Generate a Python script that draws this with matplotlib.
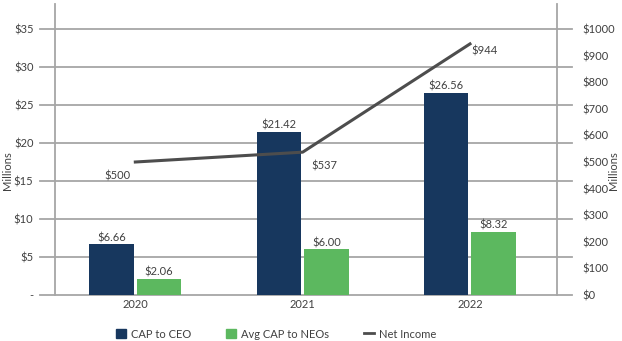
import numpy as np
import matplotlib.pyplot as plt
from matplotlib.patches import Patch
from matplotlib.lines import Line2D

plt.rcParams['font.family'] = ['Lato', 'DejaVu Sans']

years = ['2020', '2021', '2022']
cap_ceo = [6.66, 21.42, 26.56]
cap_neo = [2.06, 6.00, 8.32]
net_income = [500, 537, 944]
left_ticks = [0, 5, 10, 15, 20, 25, 30, 35]
left_labels = ['-', '$5', '$10', '$15', '$20', '$25', '$30', '$35']
right_ticks = list(range(0, 1001, 100))

navy = '#17375e'
green = '#5cb85f'
line_col = '#4d4d4d'
grid_col = '#a6a6a6'
txt_col = '#404040'

fig = plt.figure(figsize=(6.22, 3.41), dpi=100)
ax = fig.add_axes([55 / 622, 1 - 295 / 341, (557 - 55) / 622, (295 - 4) / 341])
ax2 = ax.twinx()

x = np.arange(len(years))
w = 0.265
gap = 0.009
b1 = ax.bar(x - w / 2 - gap, cap_ceo, w, color=navy, zorder=3)
b2 = ax.bar(x + w / 2 + gap, cap_neo, w, color=green, zorder=3)
for bars in (b1, b2):
    for r in bars:
        ax.annotate(f'${r.get_height():.2f}', (r.get_x() + r.get_width() / 2, r.get_height()),
                    xytext=(0, 1), textcoords='offset points', ha='center', va='bottom',
                    fontsize=8, color=txt_col)

ax.set_xlim(-0.48, 2.52)
ax.set_ylim(0, 38.3)
ax.set_yticks(left_ticks)
ax.set_yticklabels(left_labels)
ax.set_xticks(x)
ax.set_xticklabels(years)

# gridlines running past both spines
for t in left_ticks:
    ax.plot([-0.03, 1.03], [t, t], transform=ax.get_yaxis_transform(), color=grid_col,
            lw=1.3, clip_on=False, zorder=1)

ax.tick_params(axis='y', length=0, pad=15.5, labelsize=8, labelcolor=txt_col)
ax.tick_params(axis='x', length=0, pad=3, labelsize=8, labelcolor=txt_col)
for s in ['top', 'right', 'bottom']:
    ax.spines[s].set_visible(False)
ax.spines['left'].set_color(grid_col)
ax.spines['left'].set_linewidth(1.3)

ax2.plot(x, net_income, color=line_col, lw=2.2, zorder=4)
ax2.set_ylim(0, 1094)
ax2.set_yticks(right_ticks)
ax2.set_yticklabels([f'${v}' for v in right_ticks])
ax2.tick_params(axis='y', length=0, pad=18, labelsize=8, labelcolor=txt_col)
for s in ['top', 'left', 'bottom']:
    ax2.spines[s].set_visible(False)
ax2.spines['right'].set_color(grid_col)
ax2.spines['right'].set_linewidth(1.3)

# axis titles placed by hand (the right one sits over the tick labels)
fig.text(7 / 622, 1 - 171 / 341, 'Millions', rotation=90, ha='center', va='center',
         fontsize=8, color=txt_col)
fig.text(614 / 622, 1 - 171 / 341, 'Millions', rotation=90, ha='center', va='center',
         fontsize=8, color=txt_col)

offsets = [(-13, -6, 'center', 'top'), (6, -6, 'left', 'top'), (1, -1, 'left', 'top')]
for xi, v, (dx, dy, ha, va) in zip(x, net_income, offsets):
    ax2.annotate(f'${v}', (xi, v), xytext=(dx, dy), textcoords='offset points',
                 ha=ha, va=va, fontsize=8, color=txt_col)

handles = [Patch(color=navy), Patch(color=green), Line2D([0], [0], color=line_col, lw=2)]
fig.legend(handles, ['CAP to CEO', 'Avg CAP to NEOs', 'Net Income'], loc='lower center',
           bbox_to_anchor=(0.444, -0.025), ncol=3, frameon=False, fontsize=8,
           handlelength=0.9, handleheight=0.9, columnspacing=3.2, handletextpad=0.4,
           labelcolor=txt_col)

fig.savefig('out.png', dpi=100)
